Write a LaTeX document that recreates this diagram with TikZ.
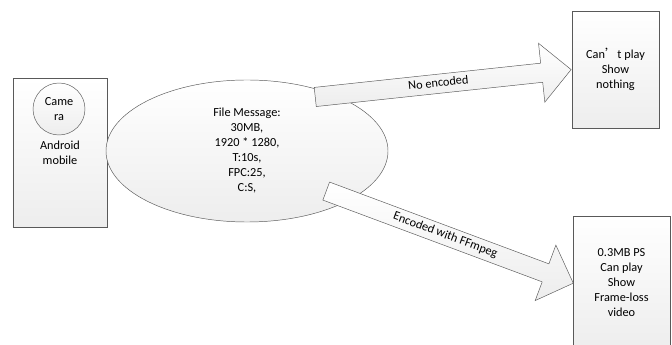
\documentclass[tikz,border=0pt]{standalone}
\usepackage{fontspec}
\setmainfont{Carlito}
\newfontfamily\cjkfont{Noto Sans CJK SC}
\usetikzlibrary{shapes.geometric,shapes.arrows}

\begin{document}
\begin{tikzpicture}[x=0.03cm,y=-0.03cm,
        every node/.style={font=\fontsize{10.5}{12.8}\selectfont,align=center},
        shadebox/.style={draw=black!65,top color=white,bottom color=gray!14},
        blockarrow/.style={single arrow,shadebox,single arrow head extend=0.6cm,
            inner ysep=3.5pt,text height=7pt,text depth=2pt,sloped,pos=0,anchor=tail}]
        \clip (0,0) rectangle (672,345);

        \node[shadebox,minimum width=2.82cm,minimum height=4.47cm]        (phone) at (60,152.5) {};
        \node[shadebox,circle,minimum size=1.56cm,inner sep=0pt]          (cam)   at (59,109)   {Came\\ra};
        \node                                                             (mobile) at (60,152.5) {Android\\mobile};

        \node[shadebox,ellipse,minimum width=8.46cm,minimum height=4.26cm,inner sep=0pt] (msg) at (247,151)
            {File Message:\\30MB,\\1920 * 1280,\\T:10s,\\FPC:25,\\C:S,};

        \node[shadebox,minimum width=2.61cm,minimum height=3.51cm] (cant) at (615.5,69.5)
            {Can{\cjkfont ’}t play\\Show\\nothing};
        \node[shadebox,minimum width=2.91cm,minimum height=4.02cm] (play) at (621.5,283)
            {0.3MB PS\\Can play\\Show\\Frame-loss\\video};

        \coordinate (noenc) at (315,97);
        \coordinate (enc)   at (326,191);

        \path (noenc) -- node[blockarrow,minimum height=7.72cm] (arrA) {No encoded} (cant.west);
        \path (enc)   -- node[blockarrow,minimum height=7.91cm] (arrB) {Encoded with FFmpeg} (play.west);
    \end{tikzpicture}
\end{document}
